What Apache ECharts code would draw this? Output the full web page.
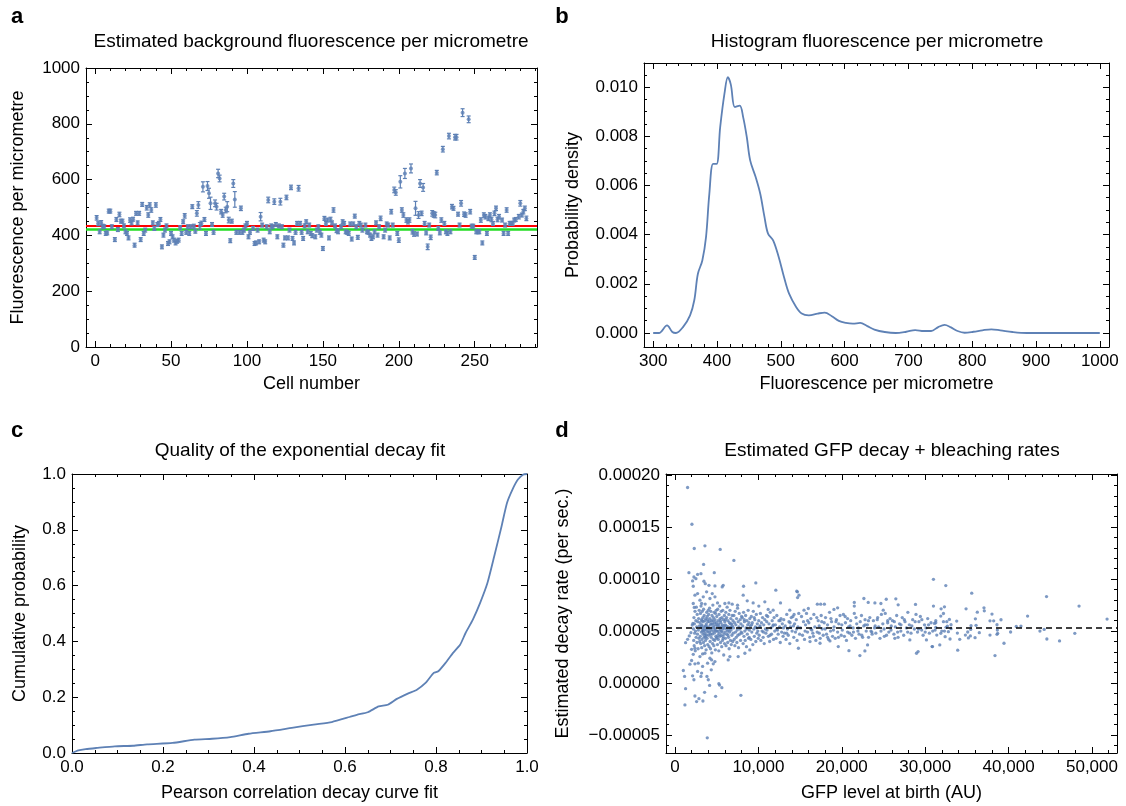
<!DOCTYPE html>
<html><head><meta charset="utf-8">
<script src="https://cdn.jsdelivr.net/npm/echarts@6/dist/echarts.min.js"></script>
<style>html,body{margin:0;padding:0;background:#fff}#c{width:1126px;height:806px}</style>
</head><body><div id="c"></div>
<script>
// ---------- Panel a: background fluorescence per cell [cell, value, error] ----------
const bgPoints = [[1,463,8],[2,443,8],[3,413,7],[4,445,8],[5,433,7],[6,431,7],[7,407,7],[8,409,7],[9,487,7],[10,487,7],[11,431,7],[13,385,7],[14,457,7],[15,421,7],[16,475,8],[17,451,7],[18,451,7],[19,434,7],[20,413,7],[21,407,7],[22,391,7],[23,455,8],[24,445,7],[25,458,7],[26,365,7],[27,479,7],[28,445,7],[29,479,7],[30,385,7],[31,511,7],[32,407,7],[33,419,7],[34,499,8],[35,473,8],[36,509,8],[37,491,8],[38,445,7],[39,425,7],[40,509,8],[41,439,7],[42,443,7],[43,457,7],[44,359,7],[45,401,7],[46,419,7],[47,434,7],[48,371,7],[49,377,7],[50,407,7],[51,395,7],[52,383,7],[53,373,7],[54,379,7],[55,383,7],[56,428,7],[57,407,7],[58,449,7],[59,470,8],[60,411,7],[61,431,7],[62,407,7],[63,431,7],[64,503,7],[65,433,7],[66,415,7],[67,479,10],[68,509,12],[69,434,12],[70,443,8],[71,574,18],[72,457,7],[73,407,7],[74,577,16],[75,551,18],[76,515,22],[77,439,7],[78,411,7],[79,515,12],[80,503,12],[81,622,15],[82,604,12],[83,485,8],[84,473,8],[85,539,12],[86,491,10],[87,503,18],[88,455,10],[89,381,7],[90,451,7],[91,586,14],[92,529,28],[93,411,7],[95,411,7],[96,497,8],[97,411,7],[98,419,7],[99,434,7],[100,443,7],[101,395,7],[102,411,7],[104,425,7],[105,371,7],[106,373,7],[107,419,7],[108,377,7],[109,467,15],[110,437,7],[111,383,7],[112,377,7],[113,431,7],[114,527,10],[115,413,7],[116,434,7],[117,431,7],[118,521,10],[119,439,7],[120,395,7],[121,434,7],[122,521,12],[123,431,7],[124,365,7],[125,391,7],[126,536,8],[127,391,7],[128,419,7],[129,572,8],[130,389,7],[131,373,7],[132,411,7],[133,443,7],[134,569,10],[135,443,7],[136,411,7],[137,389,7],[138,434,7],[139,449,7],[140,413,7],[141,437,7],[142,407,7],[143,399,7],[145,395,7],[146,419,7],[147,431,7],[148,411,7],[149,401,7],[150,353,7],[151,461,7],[152,443,7],[153,455,7],[154,391,7],[155,457,8],[156,445,7],[157,491,8],[158,434,7],[159,417,7],[160,413,7],[162,431,7],[163,449,7],[164,443,7],[165,413,7],[166,411,7],[167,407,7],[168,441,7],[169,387,7],[170,441,7],[171,469,7],[172,431,7],[173,393,7],[174,443,7],[175,437,7],[176,419,7],[178,437,7],[179,413,7],[180,411,7],[181,401,7],[182,389,7],[183,395,7],[184,413,7],[185,445,7],[186,401,7],[187,431,7],[188,461,8],[190,395,7],[191,419,7],[192,441,7],[193,437,7],[194,391,7],[195,485,8],[196,437,7],[197,563,10],[198,554,10],[199,407,7],[200,383,8],[201,592,22],[202,491,8],[203,473,8],[204,622,18],[205,455,8],[206,449,8],[207,455,8],[208,640,16],[209,413,8],[210,405,8],[211,497,25],[212,405,7],[213,473,12],[214,586,14],[215,479,8],[216,572,14],[217,443,7],[218,409,7],[219,359,10],[220,437,7],[221,393,8],[222,479,10],[223,475,10],[224,473,10],[225,625,8],[226,425,7],[227,409,7],[228,455,8],[229,709,10],[230,443,7],[231,413,7],[232,407,7],[233,756,10],[234,413,7],[235,503,8],[236,497,7],[237,752,10],[238,752,10],[239,476,7],[240,437,7],[241,515,10],[242,840,14],[243,476,8],[244,473,8],[246,816,12],[247,485,8],[248,433,7],[249,433,7],[250,321,7],[251,413,7],[252,413,7],[253,413,7],[254,455,8],[255,373,7],[256,473,8],[257,467,8],[258,407,7],[259,461,8],[260,473,8],[261,457,8],[262,443,7],[263,479,8],[264,497,8],[265,457,8],[266,467,8],[268,455,7],[269,407,7],[270,437,7],[271,491,8],[272,407,7],[273,443,7],[274,443,7],[275,443,7],[276,455,7],[277,457,7],[279,467,8],[280,515,10],[281,473,7],[282,485,8],[283,497,8],[284,461,8]];
const bgRedLine = 433;
const bgGreenLine = 421;
const aXTicks = [0,50,100,150,200,250];
const aYTicks = [0,200,400,600,800,1000];

// ---------- Panel b: density of fluorescence per micrometre ----------
const histX = [300,309,321.7,330,335.6,346.7,357.8,364.4,370,377,382.8,388,393.9,399.4,405,411.7,417,421.7,428,435.6,441,446.7,452,460.6,467.8,474.4,480,488,496.7,505,513,524,532.8,543.9,557.8,568.9,580,591,602,613,624.4,635.6,646.7,663,680,696.7,710.6,724,735.6,746.7,756.7,766,777,788,802,816,830,843.9,863,885.6,1000];
const histY = [0,0,0.00031,0.00004,0,0.00024,0.00072,0.00133,0.0024,0.00295,0.0039,0.00566,0.00688,0.00688,0.00837,0.00973,0.0104,0.0101,0.00919,0.00925,0.00878,0.00797,0.00702,0.00634,0.00566,0.00472,0.00404,0.00377,0.00309,0.00228,0.0016,0.00106,0.00079,0.00072,0.00079,0.00083,0.00068,0.00049,0.00041,0.00038,0.00041,0.00028,0.00014,0.00004,0,0.00005,0.00012,0.00008,0.00008,0.00024,0.00033,0.00024,0.00008,0.00001,0.00005,0.00011,0.00015,0.00011,0.00004,0,0];
const bXTicks = [300,400,500,600,700,800,900,1000];
const bYTicks = [0,0.002,0.004,0.006,0.008,0.010];

// ---------- Panel c: cumulative distribution of Pearson correlation ----------
const cdfX = [0,0.014,0.03,0.054,0.094,0.134,0.165,0.221,0.269,0.308,0.348,0.388,0.436,0.483,0.531,0.571,0.61,0.626,0.65,0.674,0.694,0.714,0.738,0.758,0.777,0.795,0.805,0.821,0.837,0.853,0.865,0.881,0.897,0.913,0.928,0.944,0.956,0.968,0.98,0.992,1.0];
const cdfY = [0,0.0096,0.014,0.018,0.024,0.026,0.031,0.036,0.048,0.051,0.057,0.069,0.078,0.09,0.102,0.111,0.129,0.137,0.146,0.167,0.173,0.194,0.213,0.227,0.251,0.287,0.293,0.323,0.358,0.388,0.43,0.478,0.538,0.609,0.705,0.812,0.896,0.944,0.98,0.998,1.0];
const cTicks = [0,0.2,0.4,0.6,0.8,1.0];

// ---------- Panel d: decay rate vs GFP level [GFP in thousands AU, rate in units of 1e-5 per sec] ----------
const decayOutliers = [
[1.51,18.8],[2.03,15.27],[2.31,12.94],[3.59,13.2],[5.42,12.85],[7.06,11.79],[3.43,11.41],[1.67,10.61],[2.71,10.45],[3.11,10.52],[2.27,10.2],[2.51,10.04],[4.71,10.61],[2.11,9.82],[3.47,9.79],[3.63,9.56],[2.19,9.31],[4.07,9.4],[4.79,9.34],[5.78,9.4],[8.22,9.31],[9.69,9.63],[12.09,8.93],[14.68,8.77],
[1.0,1.21],[1.15,0.64],[1.27,-0.54],[1.19,-2.1],[2.11,0.7],[2.27,0.32],[2.39,-1.24],[2.59,-1.78],[2.87,-1.5],[3.35,-1.72],[3.55,-0.89],[3.87,-5.26],[4.15,-0.22],[4.87,-1.27],[5.26,-0.06],[5.34,-0.19],[5.62,-0.44],[7.9,-1.18],[3.83,0.64],[3.99,0.32],[3.11,0.64],[3.19,0.96],[2.71,1.12],[3.31,1.6],[2.79,1.91],[2.39,1.85],[1.99,2.17],[1.79,1.82],[4.35,1.28],[4.59,1.85],[3.91,1.91],[4.19,2.39],[4.39,2.23],[4.79,2.07],[6.38,2.23],[6.58,2.55],[7.58,2.55],[8.38,2.87],[8.97,3.19],[2.19,2.77],[2.99,2.55],[3.59,2.87],[1.99,3.25],[2.39,3.35],[1.27,3.89],[1.51,4.21],[1.71,4.53],[1.91,4.85],[2.07,5.58],[2.15,5.74],
[2.19,7.65],[2.31,7.27],[2.39,8.45],[2.71,8.61],[2.99,7.97],[3.19,7.65],[3.39,8.29],[3.79,8.77],[4.19,8.13],[4.47,8.61],[4.79,8.29],[5.1,7.71],[5.66,9.24],[5.98,7.65],[6.46,7.71],[6.86,7.59],[7.5,7.49],[8.18,8.45],[8.66,7.91],[9.37,7.71],[10.05,7.4],[10.77,7.81],[11.17,7.08],[11.77,7.01],[12.65,7.71],[13.76,7.01],[14.28,6.6],
[14.6,8.83],[14.87,8.45],[14.7,8.22],[15.47,7.01],[15.99,7.17],[17.07,7.59],[17.47,7.59],[17.91,7.59],[19.06,7.08],[19.5,7.24],[21.5,7.75],[21.5,7.4],[22.65,8.13],[23.17,7.75],[23.97,7.71],[24.69,7.65],[25.33,8.06],[26.48,8.1],[26.76,7.52],[28.84,7.56],[24.97,7.01],[19.58,3.51],[20.86,3.12],[22.17,2.65],[22.77,3.09],[23.09,3.67],[26.36,4.3],[28.16,4.15],[28.96,2.87],[29.15,3.03],[30.15,4.15],[30.83,3.51],[30.99,9.98],[14.8,3.35],[16.19,3.99],[17.39,3.83],[18.58,4.05]
];
const decayCoreLow = [
[2.21,5.2],[2.24,4.1],[2.27,6.3],[2.3,3.6],[2.33,5.7],[2.36,4.8],[2.4,6.9],[2.43,3.1],[2.46,5.0],[2.5,6.0],[2.53,4.4],[2.56,7.3],[2.6,5.4],[2.63,3.9],[2.66,6.6],[2.7,4.7],[2.73,5.9],[2.77,3.3],[2.8,5.1],[2.83,6.2],[2.87,4.3],[2.9,7.0],[2.93,5.5],[2.97,4.0],
[3.01,5.8],[3.03,4.5],[3.05,6.7],[3.08,3.8],[3.1,5.3],[3.12,7.4],[3.15,4.9],[3.17,6.1],[3.2,3.4],[3.22,5.6],[3.24,4.2],[3.27,6.9],[3.29,5.0],[3.31,2.8],[3.34,6.3],[3.36,4.7],[3.38,5.9],[3.41,3.9],[3.43,7.1],[3.45,5.4],[3.48,4.4],[3.5,6.5],[3.52,5.1],[3.55,3.6],[3.57,6.0],[3.59,4.8],[3.62,7.6],[3.64,5.5],[3.66,4.1],[3.69,6.2],[3.71,5.2],[3.73,3.2],[3.76,5.7],[3.78,4.6],[3.8,6.8],[3.83,5.0],[3.85,4.3],[3.87,6.4],[3.9,5.3],[3.92,3.7],[3.94,5.9],[3.97,4.9],[3.99,7.0],[3.35,5.2],[3.65,4.4],
[4.01,5.4],[4.04,6.6],[4.06,4.6],[4.09,3.5],[4.11,5.9],[4.14,7.2],[4.16,4.9],[4.19,6.2],[4.21,4.0],[4.24,5.6],[4.26,3.3],[4.29,6.9],[4.31,5.1],[4.34,4.4],[4.36,6.0],[4.39,5.3],[4.41,2.9],[4.44,6.5],[4.46,4.7],[4.49,5.7],[4.51,3.8],[4.54,7.5],[4.56,5.0],[4.59,4.2],[4.61,6.3],[4.64,5.5],[4.66,3.6],[4.69,6.8],[4.71,4.8],[4.74,5.8],[4.76,4.1],[4.79,6.1],[4.81,5.2],[4.84,3.2],[4.86,6.7],[4.89,4.5],[4.91,5.6],[4.94,7.0],[4.96,4.3],[4.99,5.0],
[5.01,6.4],[5.04,4.4],[5.06,5.5],[5.09,3.7],[5.12,7.1],[5.14,5.0],[5.17,6.0],[5.2,4.2],[5.22,5.7],[5.25,3.1],[5.28,6.6],[5.3,4.8],[5.33,5.3],[5.36,7.4],[5.38,4.5],[5.41,6.2],[5.44,5.1],[5.46,3.9],[5.49,5.8],[5.52,4.6],[5.54,6.9],[5.57,5.4],[5.6,3.5],[5.62,6.3],[5.65,4.9],[5.68,5.6],[5.7,4.1],[5.73,7.0],[5.76,5.2],[5.78,4.3],[5.81,6.1],[5.84,2.7],[5.86,5.5],[5.89,4.7],[5.92,6.5],[5.94,3.8],[5.97,5.9],[5.99,4.9],
[6.02,5.6],[6.05,4.3],[6.09,6.8],[6.12,3.6],[6.15,5.2],[6.19,6.3],[6.22,4.7],[6.25,7.3],[6.29,5.0],[6.32,3.9],[6.35,6.0],[6.39,5.4],[6.42,4.4],[6.45,6.6],[6.49,3.3],[6.52,5.8],[6.55,4.9],[6.59,7.0],[6.62,5.3],[6.65,4.1],[6.69,6.2],[6.72,5.1],[6.75,3.7],[6.79,5.7],[6.82,4.6],[6.85,6.5],[6.89,5.5],[6.92,4.0],[6.95,6.0],[6.98,4.8],
[3.15,5.5],[3.45,5.0],[3.75,5.5],[4.05,5.2],[4.35,5.7],[4.65,5.3],[4.95,5.8],[5.25,5.5],[5.55,5.0],[5.85,5.3],[6.15,5.5],[6.45,5.1],[6.75,5.4],[3.25,6.0],[3.6,4.6],[3.9,6.1],[4.25,4.7],[4.55,6.0],[4.85,5.0],[5.15,4.6],[5.45,6.0],[5.75,4.5],[6.05,6.1],[6.35,4.6],[6.65,5.7]
];
const decayCoreMid = [
[7.02,5.3],[7.06,6.5],[7.1,4.2],[7.14,5.8],[7.18,3.6],[7.22,6.9],[7.26,4.9],[7.3,5.6],[7.34,4.4],[7.38,6.2],[7.42,3.9],[7.46,5.1],[7.5,7.2],[7.54,4.6],[7.58,5.9],[7.62,3.4],[7.66,5.4],[7.7,6.7],[7.74,4.7],[7.78,5.2],[7.82,6.1],[7.86,4.1],[7.9,5.7],[7.94,4.9],[7.98,6.4],
[8.02,4.8],[8.07,6.3],[8.12,5.5],[8.17,3.8],[8.22,6.8],[8.27,4.5],[8.32,5.9],[8.37,5.0],[8.42,4.1],[8.47,6.5],[8.52,5.3],[8.57,3.5],[8.62,6.0],[8.67,4.7],[8.72,5.6],[8.77,7.0],[8.82,4.3],[8.87,5.8],[8.92,5.1],[8.97,6.2],
[9.03,5.5],[9.09,4.2],[9.15,6.4],[9.21,4.9],[9.27,5.8],[9.33,3.7],[9.39,6.9],[9.45,5.2],[9.51,4.5],[9.57,6.1],[9.63,5.4],[9.69,4.0],[9.75,6.6],[9.81,4.8],[9.87,5.7],[9.93,5.0],[9.98,4.3],
[10.04,6.0],[10.1,4.6],[10.17,5.4],[10.24,6.7],[10.3,4.1],[10.37,5.8],[10.44,5.0],[10.5,6.3],[10.57,4.4],[10.64,5.6],[10.7,3.8],[10.77,6.1],[10.84,5.2],[10.9,4.8],[10.97,6.5],
[11.04,5.1],[11.12,6.4],[11.19,4.5],[11.27,5.7],[11.35,4.0],[11.42,6.8],[11.5,5.3],[11.58,4.7],[11.65,6.0],[11.73,5.5],[11.81,4.2],[11.88,6.3],[11.96,5.0],
[12.04,5.6],[12.12,4.3],[12.21,6.5],[12.29,5.1],[12.37,4.7],[12.46,6.0],[12.54,5.4],[12.62,3.9],[12.71,6.2],[12.79,4.9],[12.87,5.7],[12.96,4.5],
[13.04,6.1],[13.13,4.8],[13.22,5.5],[13.31,4.2],[13.4,6.6],[13.49,5.2],[13.58,4.6],[13.67,5.9],[13.76,3.8],[13.85,5.4],[13.94,6.3],
[14.04,5.0],[14.14,6.4],[14.24,4.4],[14.34,5.7],[14.44,4.9],[14.54,6.1],[14.64,4.1],[14.74,5.4],[14.84,6.7],[14.94,4.7],
[8.3,6.1],[8.6,5.2],[8.9,4.4],[9.2,5.6],[9.5,6.3],[9.8,5.3],[10.2,5.5],[10.6,4.9],[11.0,5.9],[11.4,4.6],[11.8,5.6],[12.2,5.2],[12.6,6.0],[13.0,5.3],[13.4,4.8],[13.8,5.8],[14.2,5.5],[14.6,5.2]
];
const decayCoreHigh = [
[15.05,5.3],[15.17,6.4],[15.29,4.6],[15.41,5.9],[15.53,4.2],[15.65,5.6],[15.77,6.7],[15.89,4.9],
[16.05,5.8],[16.17,4.4],[16.29,6.2],[16.41,5.1],[16.53,4.8],[16.65,6.6],[16.77,5.4],[16.89,4.1],
[17.05,4.9],[17.17,6.0],[17.29,5.5],[17.41,4.3],[17.53,6.5],[17.65,5.2],[17.77,4.6],[17.89,5.8],
[18.05,6.3],[18.17,4.7],[18.29,5.6],[18.41,4.2],[18.53,6.8],[18.65,5.0],[18.77,5.9],[18.89,4.5],
[19.07,5.4],[19.21,4.3],[19.36,6.1],[19.5,4.9],[19.64,5.7],[19.79,6.5],[19.93,4.6],
[20.06,5.1],[20.19,6.6],[20.31,4.5],[20.44,5.8],[20.56,4.1],[20.69,6.2],[20.81,5.4],[20.94,4.8],
[21.07,6.0],[21.21,4.6],[21.36,5.3],[21.5,6.7],[21.64,4.3],[21.79,5.7],[21.93,5.0],
[22.07,4.7],[22.21,5.9],[22.36,6.5],[22.5,4.4],[22.64,5.5],[22.79,6.1],[22.93,5.0],
[23.07,5.6],[23.21,4.4],[23.36,6.3],[23.5,5.0],[23.64,4.7],[23.79,6.0],[23.93,5.3],
[24.08,4.8],[24.25,6.1],[24.42,5.4],[24.58,4.3],[24.75,6.6],[24.92,5.7],
[25.07,5.2],[25.21,6.7],[25.36,4.6],[25.5,5.8],[25.64,4.9],[25.79,6.2],[25.93,5.5],
[26.08,6.0],[26.25,4.7],[26.42,5.4],[26.58,6.5],[26.75,4.4],[26.92,5.7],
[27.08,5.0],[27.25,6.3],[27.42,4.6],[27.58,5.9],[27.75,5.3],[27.92,6.8],
[28.1,5.6],[28.3,4.8],[28.5,6.1],[28.7,5.2],[28.9,6.6],
[29.08,4.9],[29.25,5.9],[29.42,6.4],[29.58,5.1],[29.75,4.6],[29.92,5.6],
[30.1,5.3],[30.3,6.2],[30.5,4.8],[30.7,5.8],[30.9,5.0],
[15.6,5.0],[15.9,6.0],[16.3,5.2],[16.6,4.5],[17.0,6.3],[17.3,4.8],[17.6,5.9],[18.0,5.2],[18.3,4.4],[18.7,6.2],[19.0,5.1],[19.3,5.9],[19.6,4.4],[20.0,5.6],[20.4,6.4],[20.7,4.9],[21.0,5.5],[21.4,4.9],[21.7,6.3],[22.0,5.3],[22.4,4.6],[22.8,5.6],[23.2,6.0],[23.6,4.9],[24.0,5.5],[24.3,6.3],[24.7,5.0],[25.1,4.5],[25.5,6.0],[25.9,5.1],[26.3,5.9],[26.7,4.9],[27.1,5.6],[27.5,6.1],[27.9,4.9],[28.4,5.5],[28.8,5.9],[29.2,5.2],[29.6,6.1],[30.0,4.9],[30.4,5.6]
];
const decayTail = [
[32.47,9.37],[35.58,8.64],[44.55,8.32],[30.99,7.4],[32.31,7.33],[34.9,7.14],[31.91,7.14],[32.19,6.69],[31.87,6.44],[31.27,6.0],[31.27,5.8],[31.11,5.74],[33.78,5.96],[37.05,7.24],[37.09,6.95],[36.25,6.82],[36.02,6.18],[38.01,6.63],[37.77,5.99],[38.21,5.99],[39.09,6.09],[38.61,5.61],[38.65,5.1],[38.61,4.69],[38.69,4.78],[36.1,5.55],[35.5,5.52],[35.46,5.16],[33.86,4.81],[34.14,4.21],[33.9,3.16],[32.98,4.24],[31.75,3.67],[30.87,3.51],[37.77,4.62],[39.45,3.83],[38.37,2.65],[40.24,4.91],[40.92,5.45],[41.48,5.48],[42.28,6.44],[43.76,5.0],[44.27,5.16],[44.59,4.24],[46.11,4.05],[47.94,4.78],[32.19,5.9],[32.59,5.9],[32.9,6.12],[33.1,5.61],[32.66,5.48],[32.5,5.36],[32.31,5.0],[36.49,4.85],[35.42,4.53],[35.1,4.91],[35.18,4.34],[34.82,4.62],[35.98,4.37],[31.19,5.1],[31.39,4.62],[31.87,4.78],[31.99,5.0],[32.39,4.46],[32.78,4.94],[33.1,5.23],[31.27,5.36],[48.45,7.4],[51.81,6.15]
];
const decayMeanLine = 5.29;   // in units of 1e-5 per sec
const dXTicks = [0,10000,20000,30000,40000,50000];
const dYTicks = [-5,0,5,10,15,20]; // units of 1e-5

// ---------- Drawing ----------
const FONT = '"Liberation Sans", Arial, Helvetica, sans-serif';
const BLUE = '#5E81B5';
const FS = 17;
const FS_N = 18;
const FS_T = 19;

function range(a, b, s) { const out = []; for (let k = 0; a + k * s <= b + s * 1e-6; k++) out.push(+(a + k * s).toFixed(10)); return out; }

function frameAxes(dim, gridIndex, min, max, majors, minors, fmt, name, nameGap) {
  const isX = dim === 'x';
  const pos = isX ? ['bottom', 'top'] : ['left', 'right'];
  const common = { type: 'value', gridIndex, min, max, splitLine: { show: false }, silent: true };
  const line = { show: true, onZero: false, lineStyle: { color: '#000', width: 1 } };
  const noLine = { show: false, onZero: false };
  const tick = (vals, len) => ({ show: true, inside: true, length: len, customValues: vals, lineStyle: { color: '#000', width: 1 } });
  return [
    Object.assign({}, common, {
      position: pos[0], axisLine: line, axisTick: tick(majors, 6),
      axisLabel: { show: true, customValues: majors, formatter: fmt, margin: 6, color: '#000', fontFamily: FONT, fontSize: FS },
      name, nameLocation: 'middle', nameGap, nameRotate: isX ? 0 : 90,
      nameTextStyle: { color: '#000', fontFamily: FONT, fontSize: FS_N }
    }),
    Object.assign({}, common, { position: pos[0], axisLine: noLine, axisTick: tick(minors, 3), axisLabel: { show: false } }),
    Object.assign({}, common, { position: pos[1], axisLine: line, axisTick: tick(majors, 6), axisLabel: { show: false } }),
    Object.assign({}, common, { position: pos[1], axisLine: noLine, axisTick: tick(minors, 3), axisLabel: { show: false } })
  ];
}

const commaFmt = v => String(Math.round(v)).replace(/\B(?=(\d{3})+(?!\d))/g, ',');
const rateFmt = v => (v < 0 ? '\u2212' : '') + Math.abs(v * 1e-5).toFixed(5);

const xAxes = [].concat(
  frameAxes('x', 0, -6, 291, aXTicks, range(0, 290, 10), v => String(v), 'Cell number', 28),
  frameAxes('x', 1, 285.6, 1014.4, bXTicks, range(300, 1000, 20), v => String(v), 'Fluorescence per micrometre', 28),
  frameAxes('x', 2, 0, 1, cTicks, range(0, 1, 0.05), v => v.toFixed(1), 'Pearson correlation decay curve fit', 31),
  frameAxes('x', 3, -1079, 53000, dXTicks, range(0, 52000, 2000), commaFmt, 'GFP level at birth (AU)', 31)
);
const yAxes = [].concat(
  frameAxes('y', 0, 0, 1000, aYTicks, range(0, 1000, 50), v => String(v), 'Fluorescence per micrometre', 59),
  frameAxes('y', 1, -0.00057, 0.01098, bYTicks, range(0, 0.0105, 0.0005), v => v.toFixed(3), 'Probability density', 62),
  frameAxes('y', 2, 0, 1, cTicks, range(0, 1, 0.05), v => v.toFixed(1), 'Cumulative probability', 43),
  frameAxes('y', 3, -6.72, 20.1, dYTicks, range(-6, 20, 1), rateFmt, 'Estimated decay rate (per sec.)', 94)
);

function renderErr(params, api) {
  const x = api.value(0), v = api.value(1), e = api.value(2);
  const lo = api.coord([x, v - e]), hi = api.coord([x, v + e]);
  const w = 2;
  const st = { stroke: BLUE, lineWidth: 1.2 };
  return { type: 'group', children: [
    { type: 'line', shape: { x1: lo[0], y1: lo[1], x2: hi[0], y2: hi[1] }, style: st },
    { type: 'line', shape: { x1: lo[0] - w, y1: lo[1], x2: lo[0] + w, y2: lo[1] }, style: st },
    { type: 'line', shape: { x1: hi[0] - w, y1: hi[1], x2: hi[0] + w, y2: hi[1] }, style: st }
  ] };
}

function txt(x, y, text, font, rot) {
  return { type: 'text', x, y, rotation: rot || 0, silent: true,
    style: { text, font, fill: '#000', align: 'center', verticalAlign: 'middle', textAlign: 'center', textVerticalAlign: 'middle' } };
}

const decayAll = [].concat(decayOutliers, decayCoreLow, decayCoreMid, decayCoreHigh, decayTail);

const option = {
  animation: false,
  backgroundColor: '#fff',
  grid: [
    { left: 86, top: 68, width: 451, height: 279 },
    { left: 644, top: 63, width: 465, height: 284 },
    { left: 72, top: 474, width: 455, height: 279 },
    { left: 666, top: 474, width: 451, height: 279 }
  ],
  xAxis: xAxes,
  yAxis: yAxes,
  graphic: [
    txt(17, 17, 'a', 'bold 22px ' + FONT),
    txt(562, 17, 'b', 'bold 22px ' + FONT),
    txt(17, 431, 'c', 'bold 22px ' + FONT),
    txt(562, 431, 'd', 'bold 22px ' + FONT),
    txt(311, 42, 'Estimated background fluorescence per micrometre', FS_T + 'px ' + FONT),
    txt(877, 42, 'Histogram fluorescence per micrometre', FS_T + 'px ' + FONT),
    txt(300, 451, 'Quality of the exponential decay fit', FS_T + 'px ' + FONT),
    txt(892, 451, 'Estimated GFP decay + bleaching rates', FS_T + 'px ' + FONT)
  ],
  series: [
    { type: 'custom', xAxisIndex: 0, yAxisIndex: 0, renderItem: renderErr, data: bgPoints, encode: { x: 0, y: 1 }, z: 3 },
    { type: 'scatter', xAxisIndex: 0, yAxisIndex: 0, symbol: 'circle', symbolSize: 4,
      itemStyle: { color: BLUE }, data: bgPoints.map(p => [p[0], p[1]]), z: 4,
      markLine: { silent: true, symbol: 'none', label: { show: false }, z: 2, precision: 4,
        data: [
          { yAxis: bgGreenLine, lineStyle: { color: '#22DD22', width: 2.5, type: 'solid' } },
          { yAxis: bgRedLine, lineStyle: { color: '#FF0000', width: 2, type: 'solid' } }
        ] } },
    { type: 'line', xAxisIndex: 4, yAxisIndex: 4, data: histX.map((x, i) => [x, histY[i]]),
      showSymbol: false, smooth: 0.35, lineStyle: { color: BLUE, width: 1.8 } },
    { type: 'line', xAxisIndex: 8, yAxisIndex: 8, data: cdfX.map((x, i) => [x, cdfY[i]]),
      showSymbol: false, smooth: 0.2, lineStyle: { color: BLUE, width: 1.8 } },
    { type: 'scatter', xAxisIndex: 12, yAxisIndex: 12, symbol: 'circle', symbolSize: 3.3,
      itemStyle: { color: BLUE }, data: decayAll.map(p => [p[0] * 1000, p[1]]),
      markLine: { silent: true, symbol: 'none', label: { show: false }, precision: 4,
        data: [{ yAxis: decayMeanLine, lineStyle: { color: '#000', width: 1.6, type: [6, 4] } }] } }
  ]
};

const chart = echarts.init(document.getElementById('c'), null, { renderer: 'canvas' });
chart.setOption(option);
</script>
</body></html>
